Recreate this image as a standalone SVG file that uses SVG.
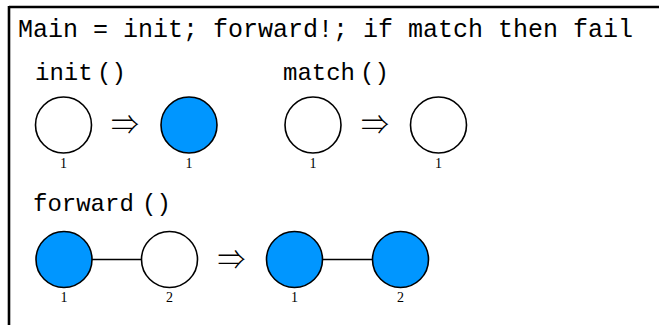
<svg xmlns="http://www.w3.org/2000/svg" width="659" height="325" viewBox="0 0 659 325">
<style>
.tt{font-family:"Liberation Mono","DejaVu Sans Mono",monospace;fill:#000}
.num{font-family:"Liberation Serif","DejaVu Serif",serif;font-size:14px;text-anchor:middle;fill:#000}
.n{stroke:#000;stroke-width:1.6}
.w{fill:#fff}
.b{fill:#0096ff}
.e{stroke:#000;stroke-width:1.6;fill:none}
.arr{font-family:"Noto Sans CJK JP",sans-serif;font-weight:300;font-size:28px;text-anchor:middle;fill:#000}
</style>
<rect width="659" height="325" fill="#fff"/>
<g id="frame">
<line x1="9" y1="7" x2="659" y2="7" stroke="#000" stroke-width="2.6"/>
<line x1="9" y1="6" x2="9" y2="325" stroke="#000" stroke-width="2.6"/>
</g>
<text class="tt" x="18" y="37" font-size="25">Main = init; forward!; if match then fail</text>
<g id="labels">
<text class="tt" x="35" y="80" font-size="24">init<tspan x="97">()</tspan></text>
<text class="tt" x="283" y="80" font-size="24">match<tspan x="360">()</tspan></text>
<text class="tt" x="33" y="211" font-size="24">forward<tspan x="142">()</tspan></text>
</g>
<g id="arrows">
<text class="arr" x="125" y="135">⇒</text>
<text class="arr" x="375" y="135">⇒</text>
<text class="arr" x="231.5" y="269.5">⇒</text>
</g>
<g id="connectors">
<line class="e" x1="92" y1="259.5" x2="141.5" y2="259.5"/>
<line class="e" x1="322.5" y1="259.5" x2="372.5" y2="259.5"/>
</g>
<g id="init-l"><circle class="n w" cx="63.5" cy="125" r="28"/><text class="num" x="63.5" y="168">1</text></g>
<g id="init-r"><circle class="n b" cx="189" cy="125" r="28"/><text class="num" x="189" y="168">1</text></g>
<g id="match-l"><circle class="n w" cx="313" cy="125" r="28"/><text class="num" x="313" y="168">1</text></g>
<g id="match-r"><circle class="n w" cx="438.5" cy="125" r="28"/><text class="num" x="438.5" y="168">1</text></g>
<g id="fwd-l1"><circle class="n b" cx="64" cy="259.5" r="28"/><text class="num" x="64" y="302">1</text></g>
<g id="fwd-l2"><circle class="n w" cx="169.5" cy="259.5" r="28"/><text class="num" x="169.5" y="302">2</text></g>
<g id="fwd-r1"><circle class="n b" cx="294.5" cy="259.5" r="28"/><text class="num" x="294.5" y="302">1</text></g>
<g id="fwd-r2"><circle class="n b" cx="400.5" cy="259.5" r="28"/><text class="num" x="400.5" y="302">2</text></g>
</svg>
